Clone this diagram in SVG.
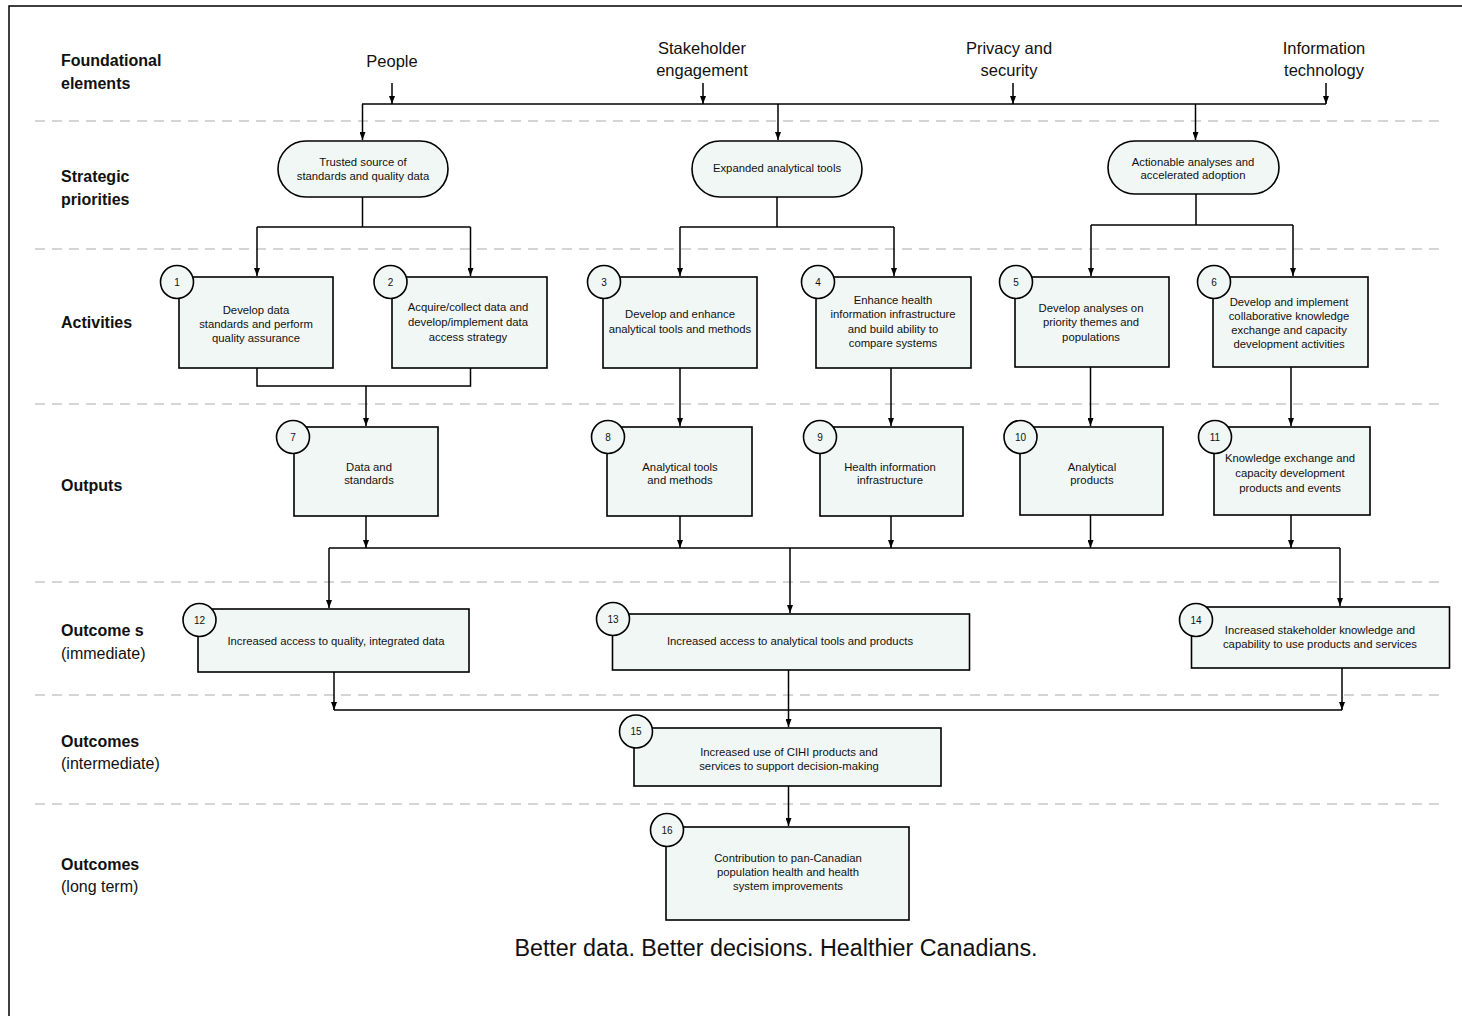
<svg xmlns="http://www.w3.org/2000/svg" width="1462" height="1016" viewBox="0 0 1462 1016">
<defs>
<marker id="ah" viewBox="0 0 8 6" refX="8" refY="3" markerWidth="8" markerHeight="6" markerUnits="userSpaceOnUse" orient="auto"><path d="M0,0 L8,3 L0,6 z" fill="#000"/></marker>
<style>
text{font-family:"Liberation Sans",Arial,sans-serif;fill:#111}
.lab{font-size:16px;font-weight:bold}
.sub{font-size:16px}
.top{font-size:16.5px;text-anchor:middle}
.t{font-size:11.3px;text-anchor:middle}
.n{font-size:10px;text-anchor:middle}
.box{fill:#f1f7f4;stroke:#000;stroke-width:1.6}
.sep{stroke:#c8c8c8;stroke-width:1.5;stroke-dasharray:10 7;fill:none}
.c{stroke:#000;stroke-width:1.5;fill:none}
.a{stroke:#000;stroke-width:1.5;fill:none;marker-end:url(#ah)}
.tag{font-size:23.3px;text-anchor:middle}
</style>
</defs>
<rect x="9" y="6" width="1470" height="1030" fill="#fff" stroke="#000" stroke-width="1.5"/>
<g id="separators">
<line class="sep" x1="35" y1="121" x2="1442" y2="121"/>
<line class="sep" x1="35" y1="249" x2="1442" y2="249"/>
<line class="sep" x1="35" y1="404" x2="1442" y2="404"/>
<line class="sep" x1="35" y1="582" x2="1442" y2="582"/>
<line class="sep" x1="35" y1="695" x2="1442" y2="695"/>
<line class="sep" x1="35" y1="804" x2="1442" y2="804"/>
</g>
<g id="row-labels">
<text class="lab" x="61" y="66">Foundational</text>
<text class="lab" x="61" y="89">elements</text>
<text class="lab" x="61" y="182">Strategic</text>
<text class="lab" x="61" y="205">priorities</text>
<text class="lab" x="61" y="328">Activities</text>
<text class="lab" x="61" y="491">Outputs</text>
<text class="lab" x="61" y="636">Outcome s</text>
<text class="sub" x="61" y="659">(immediate)</text>
<text class="lab" x="61" y="747">Outcomes</text>
<text class="sub" x="61" y="769">(intermediate)</text>
<text class="lab" x="61" y="870">Outcomes</text>
<text class="sub" x="61" y="892">(long term)</text>
</g>
<g id="foundational">
<text class="top" x="392" y="67">People</text>
<text class="top" x="702" y="54">Stakeholder</text>
<text class="top" x="702" y="76">engagement</text>
<text class="top" x="1009" y="54">Privacy and</text>
<text class="top" x="1009" y="76">security</text>
<text class="top" x="1324" y="54">Information</text>
<text class="top" x="1324" y="76">technology</text>
</g>
<g id="connectors">
<line class="a" x1="392" y1="83" x2="392" y2="104"/>
<line class="a" x1="703" y1="83" x2="703" y2="104"/>
<line class="a" x1="1013" y1="83" x2="1013" y2="104"/>
<line class="a" x1="1326" y1="83" x2="1326" y2="104"/>
<line class="c" x1="362" y1="104" x2="1326" y2="104"/>
<line class="a" x1="362.5" y1="104" x2="362.5" y2="140"/>
<line class="a" x1="778" y1="104" x2="778" y2="140"/>
<line class="a" x1="1195.5" y1="104" x2="1195.5" y2="140"/>
<polyline class="c" points="362.5,197 362.5,227"/>
<line class="c" x1="257" y1="227" x2="470.5" y2="227"/>
<line class="a" x1="257" y1="227" x2="257" y2="276"/>
<line class="a" x1="470.5" y1="227" x2="470.5" y2="276"/>
<polyline class="c" points="777,197 777,227"/>
<line class="c" x1="680" y1="227" x2="894" y2="227"/>
<line class="a" x1="680" y1="227" x2="680" y2="276"/>
<line class="a" x1="894" y1="227" x2="894" y2="276"/>
<polyline class="c" points="1196,194 1196,225"/>
<line class="c" x1="1091" y1="225" x2="1293" y2="225"/>
<line class="a" x1="1091" y1="225" x2="1091" y2="276"/>
<line class="a" x1="1293" y1="225" x2="1293" y2="276"/>
<polyline class="c" points="257,368 257,386 470.5,386 470.5,368"/>
<line class="a" x1="366" y1="386" x2="366" y2="426"/>
<line class="a" x1="680" y1="368" x2="680" y2="426"/>
<line class="a" x1="891" y1="368" x2="891" y2="426"/>
<line class="a" x1="1090.5" y1="367" x2="1090.5" y2="426"/>
<line class="a" x1="1291" y1="367" x2="1291" y2="426"/>
<line class="a" x1="366" y1="516" x2="366" y2="548"/>
<line class="a" x1="680" y1="516" x2="680" y2="548"/>
<line class="a" x1="891" y1="516" x2="891" y2="548"/>
<line class="a" x1="1090.5" y1="515" x2="1090.5" y2="548"/>
<line class="a" x1="1291" y1="515" x2="1291" y2="548"/>
<line class="c" x1="329" y1="548" x2="1340" y2="548"/>
<line class="a" x1="329" y1="548" x2="329" y2="608"/>
<line class="a" x1="790" y1="548" x2="790" y2="613"/>
<line class="a" x1="1340" y1="548" x2="1340" y2="606"/>
<line class="a" x1="334" y1="672" x2="334" y2="710"/>
<line class="a" x1="1342" y1="668" x2="1342" y2="710"/>
<line class="c" x1="334" y1="710" x2="1342" y2="710"/>
<line class="a" x1="788.5" y1="670" x2="788.5" y2="727"/>
<line class="a" x1="788.5" y1="786" x2="788.5" y2="826"/>
</g>
<g id="p1">
<rect class="box" x="278" y="141" width="170" height="56" rx="28"/>
<text class="t" x="363" y="165.5">Trusted source of</text>
<text class="t" x="363" y="179.5">standards and quality data</text>
</g>
<g id="p2">
<rect class="box" x="692" y="141" width="170" height="56" rx="28"/>
<text class="t" x="777" y="172">Expanded analytical tools</text>
</g>
<g id="p3">
<rect class="box" x="1108" y="141" width="171" height="53" rx="26.5"/>
<text class="t" x="1193" y="165.5">Actionable analyses and</text>
<text class="t" x="1193" y="179">accelerated adoption</text>
</g>
<g id="n1">
<rect class="box" x="179" y="277" width="154" height="91"/>
<circle class="box" cx="177" cy="282" r="16.5"/>
<text class="n" x="177" y="285.5">1</text>
<text class="t" x="256" y="314">Develop data</text>
<text class="t" x="256" y="328">standards and perform</text>
<text class="t" x="256" y="342">quality assurance</text>
</g>
<g id="n2">
<rect class="box" x="392" y="277" width="155" height="91"/>
<circle class="box" cx="390.5" cy="282" r="16.5"/>
<text class="n" x="390.5" y="285.5">2</text>
<text class="t" x="468" y="311">Acquire/collect data and</text>
<text class="t" x="468" y="326">develop/implement data</text>
<text class="t" x="468" y="340.5">access strategy</text>
</g>
<g id="n3">
<rect class="box" x="603" y="277" width="154" height="91"/>
<circle class="box" cx="604" cy="282" r="16.5"/>
<text class="n" x="604" y="285.5">3</text>
<text class="t" x="680" y="318">Develop and enhance</text>
<text class="t" x="680" y="333">analytical tools and methods</text>
</g>
<g id="n4">
<rect class="box" x="816" y="277" width="155" height="91"/>
<circle class="box" cx="818" cy="282" r="16.5"/>
<text class="n" x="818" y="285.5">4</text>
<text class="t" x="893" y="304">Enhance health</text>
<text class="t" x="893" y="318">information infrastructure</text>
<text class="t" x="893" y="333">and build ability to</text>
<text class="t" x="893" y="347">compare systems</text>
</g>
<g id="n5">
<rect class="box" x="1015" y="277" width="154" height="90"/>
<circle class="box" cx="1016" cy="282" r="16.5"/>
<text class="n" x="1016" y="285.5">5</text>
<text class="t" x="1091" y="311.5">Develop analyses on</text>
<text class="t" x="1091" y="326">priority themes and</text>
<text class="t" x="1091" y="341">populations</text>
</g>
<g id="n6">
<rect class="box" x="1213" y="277" width="155" height="90"/>
<circle class="box" cx="1214" cy="282" r="16.5"/>
<text class="n" x="1214" y="285.5">6</text>
<text class="t" x="1289" y="305.5">Develop and implement</text>
<text class="t" x="1289" y="319.5">collaborative knowledge</text>
<text class="t" x="1289" y="334">exchange and capacity</text>
<text class="t" x="1289" y="348">development activities</text>
</g>
<g id="n7">
<rect class="box" x="294" y="427" width="144" height="89"/>
<circle class="box" cx="293" cy="437" r="16.5"/>
<text class="n" x="293" y="440.5">7</text>
<text class="t" x="369" y="470.5">Data and</text>
<text class="t" x="369" y="484">standards</text>
</g>
<g id="n8">
<rect class="box" x="607" y="427" width="145" height="89"/>
<circle class="box" cx="608" cy="437" r="16.5"/>
<text class="n" x="608" y="440.5">8</text>
<text class="t" x="680" y="470.5">Analytical tools</text>
<text class="t" x="680" y="484">and methods</text>
</g>
<g id="n9">
<rect class="box" x="820" y="427" width="143" height="89"/>
<circle class="box" cx="820" cy="437" r="16.5"/>
<text class="n" x="820" y="440.5">9</text>
<text class="t" x="890" y="470.5">Health information</text>
<text class="t" x="890" y="484">infrastructure</text>
</g>
<g id="n10">
<rect class="box" x="1020" y="427" width="143" height="88"/>
<circle class="box" cx="1020.5" cy="437" r="16.5"/>
<text class="n" x="1020.5" y="440.5">10</text>
<text class="t" x="1092" y="470.5">Analytical</text>
<text class="t" x="1092" y="484">products</text>
</g>
<g id="n11">
<rect class="box" x="1214" y="427" width="156" height="88"/>
<circle class="box" cx="1215" cy="437" r="16.5"/>
<text class="n" x="1215" y="440.5">11</text>
<text class="t" x="1290" y="462">Knowledge exchange and</text>
<text class="t" x="1290" y="476.5">capacity development</text>
<text class="t" x="1290" y="491.5">products and events</text>
</g>
<g id="n12">
<rect class="box" x="198" y="609" width="271" height="63"/>
<circle class="box" cx="199.5" cy="620" r="16.5"/>
<text class="n" x="199.5" y="623.5">12</text>
<text class="t" x="336" y="645">Increased access to quality, integrated data</text>
</g>
<g id="n13">
<rect class="box" x="612.5" y="614" width="357" height="56"/>
<circle class="box" cx="613" cy="619" r="16.5"/>
<text class="n" x="613" y="622.5">13</text>
<text class="t" x="790" y="645">Increased access to analytical tools and products</text>
</g>
<g id="n14">
<rect class="box" x="1191.5" y="607" width="258" height="61"/>
<circle class="box" cx="1196" cy="620" r="16.5"/>
<text class="n" x="1196" y="623.5">14</text>
<text class="t" x="1320" y="634">Increased stakeholder knowledge and</text>
<text class="t" x="1320" y="648">capability to use products and services</text>
</g>
<g id="n15">
<rect class="box" x="634" y="728" width="307" height="58"/>
<circle class="box" cx="636" cy="731.5" r="16.5"/>
<text class="n" x="636" y="735">15</text>
<text class="t" x="789" y="755.5">Increased use of CIHI products and</text>
<text class="t" x="789" y="769.5">services to support decision-making</text>
</g>
<g id="n16">
<rect class="box" x="666" y="827" width="243" height="93"/>
<circle class="box" cx="667" cy="830" r="16.5"/>
<text class="n" x="667" y="833.5">16</text>
<text class="t" x="788" y="862">Contribution to pan-Canadian</text>
<text class="t" x="788" y="876">population health and health</text>
<text class="t" x="788" y="890">system improvements</text>
</g>
<text class="tag" x="776" y="956">Better data. Better decisions. Healthier Canadians.</text>
</svg>
